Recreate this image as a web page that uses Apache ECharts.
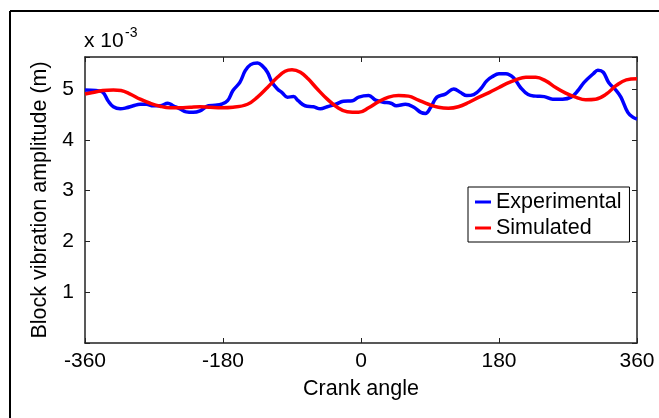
<!DOCTYPE html>
<html>
<head>
<meta charset="utf-8">
<script src="https://cdn.jsdelivr.net/npm/echarts@6/dist/echarts.min.js"></script>
<style>
  html, body { margin: 0; padding: 0; background: #fff; }
  #myChart { width: 659px; height: 418px; }
</style>
</head>
<body>
<div id="myChart"></div>
<script>
// crank angle ticks
const xTicks = [-360, -180, 0, 180, 360];

// experimental block vibration amplitude (x 10^-3 m)
const expAngle = [-360, -346, -337, -330, -323, -314, -306, -297, -288, -280, -271, -262, -252, -245, -236, -228, -219, -210, -199, -190, -182, -174, -167, -158, -151, -144, -135, -129, -122, -116, -109, -103, -96, -88, -82, -73, -62, -53, -44, -33, -23, -11, -3, 10, 19, 29, 39, 46, 58, 69, 78, 84, 91, 99, 110, 121, 130, 138, 147, 156, 164, 171, 180, 189, 199, 208, 218, 228, 239, 250, 263, 274, 283, 291, 303, 309, 316, 323, 333, 339, 348, 355, 360];
const expAmp = [4.98, 4.97, 4.94, 4.77, 4.65, 4.61, 4.63, 4.67, 4.70, 4.70, 4.67, 4.67, 4.72, 4.67, 4.61, 4.55, 4.54, 4.57, 4.67, 4.68, 4.70, 4.77, 4.97, 5.13, 5.36, 5.48, 5.51, 5.46, 5.33, 5.13, 5.00, 4.93, 4.84, 4.85, 4.77, 4.67, 4.65, 4.61, 4.65, 4.70, 4.76, 4.77, 4.84, 4.87, 4.78, 4.74, 4.72, 4.67, 4.70, 4.64, 4.54, 4.52, 4.64, 4.84, 4.90, 5.00, 4.93, 4.87, 4.89, 5.00, 5.16, 5.24, 5.30, 5.30, 5.22, 5.03, 4.89, 4.86, 4.85, 4.80, 4.80, 4.84, 4.97, 5.13, 5.30, 5.37, 5.33, 5.13, 4.97, 4.84, 4.54, 4.44, 4.41];

// simulated block vibration amplitude (x 10^-3 m)
const simAngle = [-360, -350, -337, -323, -313, -301, -288, -275, -262, -249, -236, -223, -210, -197, -182, -167, -148, -135, -122, -109, -99, -90, -79, -69, -57, -44, -31, -18, -3, 10, 23, 36, 49, 62, 75, 88, 101, 114, 127, 141, 154, 167, 180, 189, 202, 215, 228, 241, 254, 267, 280, 293, 306, 320, 333, 346, 360];
const simAmp = [4.90, 4.93, 4.97, 4.98, 4.97, 4.90, 4.80, 4.72, 4.66, 4.63, 4.63, 4.64, 4.65, 4.64, 4.63, 4.64, 4.70, 4.84, 5.03, 5.23, 5.35, 5.38, 5.33, 5.20, 5.00, 4.80, 4.64, 4.55, 4.54, 4.63, 4.75, 4.84, 4.87, 4.86, 4.78, 4.70, 4.64, 4.62, 4.65, 4.74, 4.84, 4.93, 5.03, 5.10, 5.18, 5.23, 5.23, 5.16, 5.03, 4.92, 4.84, 4.79, 4.80, 4.90, 5.07, 5.18, 5.20];

const font = "'Liberation Sans', Arial, sans-serif";
const axisColor = '#222';

function pairs(xs, ys) {
  return xs.map((x, i) => [x, ys[i]]);
}

let myChart = echarts.init(document.getElementById('myChart'), null, { renderer: 'canvas' });

const xBase = {
  type: 'value',
  min: xTicks[0],
  max: xTicks[xTicks.length - 1],
  interval: 180,
  axisLine: { show: true, onZero: false, lineStyle: { color: axisColor, width: 1.5 } },
  axisTick: { show: true, inside: true, length: 5, lineStyle: { color: axisColor, width: 1 } },
  splitLine: { show: false }
};
const yBase = {
  type: 'value',
  min: 0,
  max: 5.63,
  interval: 1,
  axisLine: { show: true, onZero: false, lineStyle: { color: axisColor, width: 1.5 } },
  axisTick: { show: true, inside: true, length: 5, lineStyle: { color: axisColor, width: 1 } },
  splitLine: { show: false }
};

myChart.setOption({
  animation: false,
  backgroundColor: '#fff',
  textStyle: { fontFamily: font },
  grid: { left: 85, right: 22, top: 57, bottom: 75 },
  legend: {
    orient: 'vertical',
    left: 468,
    top: 187,
    padding: [4, 8, 3, 7],
    itemGap: 4,
    itemWidth: 16,
    itemHeight: 3,
    icon: 'rect',
    borderColor: '#000',
    borderWidth: 1,
    borderRadius: 0,
    backgroundColor: '#fff',
    textStyle: { fontSize: 21.5, color: '#000', fontFamily: font, padding: [0, 0, 0, 0] },
    data: ['Experimental', 'Simulated']
  },
  xAxis: [
    Object.assign({}, xBase, {
      position: 'bottom',
      name: 'Crank angle',
      nameLocation: 'middle',
      nameGap: 35,
      nameTextStyle: { fontSize: 21.5, color: '#000', fontFamily: font },
      axisLabel: { fontSize: 21, color: '#000', margin: 8, fontFamily: font }
    }),
    Object.assign({}, xBase, { position: 'top', axisLabel: { show: false } })
  ],
  yAxis: [
    Object.assign({}, yBase, {
      position: 'left',
      name: 'Block vibration amplitude (m)',
      nameLocation: 'middle',
      nameGap: 32,
      nameTextStyle: { fontSize: 21.5, color: '#000', fontFamily: font },
      axisLabel: {
        fontSize: 21, color: '#000', margin: 11, fontFamily: font,
        formatter: function (v) { return (v >= 1 && v <= 5 && Number.isInteger(v)) ? String(v) : ''; }
      }
    }),
    Object.assign({}, yBase, { position: 'right', axisLabel: { show: false } })
  ],
  graphic: [
    // figure frame (top and left edges)
    { type: 'line', shape: { x1: 10, y1: 11, x2: 659, y2: 11 }, style: { stroke: '#000', lineWidth: 2 } },
    { type: 'line', shape: { x1: 10, y1: 11, x2: 10, y2: 418 }, style: { stroke: '#000', lineWidth: 2 } },
    // axis exponent
    { type: 'text', left: 84, top: 31, style: { text: 'x 10', fontSize: 21, fill: '#000', fontFamily: font } },
    { type: 'text', left: 125, top: 26, style: { text: '-3', fontSize: 14, fill: '#000', fontFamily: font } }
  ],
  series: [
    {
      name: 'Experimental',
      type: 'line',
      data: pairs(expAngle, expAmp),
      showSymbol: false,
      smooth: 0.4,
      color: '#0000ff',
      lineStyle: { color: '#0000ff', width: 3.5 }
    },
    {
      name: 'Simulated',
      type: 'line',
      data: pairs(simAngle, simAmp),
      showSymbol: false,
      smooth: 0.4,
      color: '#ff0000',
      lineStyle: { color: '#ff0000', width: 3.5 }
    }
  ]
});
</script>
</body>
</html>
